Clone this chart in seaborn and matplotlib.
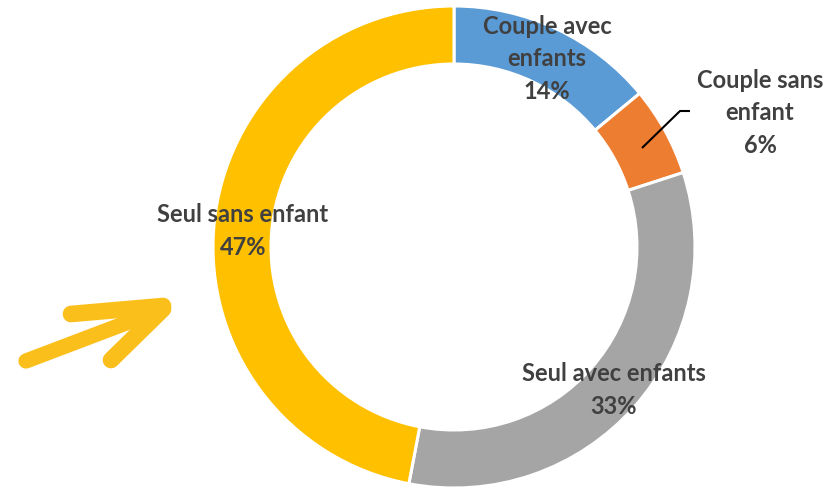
import matplotlib
matplotlib.use("Agg")
import matplotlib.pyplot as plt
import seaborn as sns

# data
categories = ["Couple avec\nenfants", "Couple sans\nenfant", "Seul avec enfants", "Seul sans enfant"]
shares = [14, 6, 33, 47]
colors = ["#5B9BD5", "#ED7D31", "#A5A5A5", "#FFC000"]

sns.set_style("white")
plt.rcParams['font.family'] = ['Lato', 'DejaVu Sans']

W, H = 827, 487
fig = plt.figure(figsize=(W / 100, H / 100), dpi=100)
ax = fig.add_axes([0, 0, 1, 1])

cx, cy, r = 454, H - 247, 241
ax.pie(shares, colors=colors, startangle=90, counterclock=False,
       center=(cx, cy), radius=r,
       wedgeprops=dict(width=58, edgecolor="white", linewidth=2.2))
ax.set_xlim(0, W)
ax.set_ylim(0, H)
ax.set_aspect("equal")
ax.axis("off")

# label placement (pixel positions of text centres)
label_pos = [(547, 59), (760, 113), (614, 390), (243, 231)]
for name, val, (px, py) in zip(categories, shares, label_pos):
    ax.text(px, H - py, f"{name}\n{val}%", ha="center", va="center",
            fontsize=17, fontweight="bold", color="#404040", linespacing=1.5)

# leader line for the small slice
ax.plot([642, 680, 690], [H - 148, H - 111, H - 111], color="black", lw=1.5,
        solid_capstyle="butt")

# hand drawn arrow on the left
arrow_col = "#FBBF1C"
for xs, ys, lw in [([26, 163], [361, 309], 11),
                   ([71, 163], [314, 306], 12),
                   ([111, 163], [360, 309], 12)]:
    ax.plot(xs, [H - y for y in ys], color=arrow_col, lw=lw,
            solid_capstyle="round", solid_joinstyle="round")

fig.savefig("out.png", dpi=100)
